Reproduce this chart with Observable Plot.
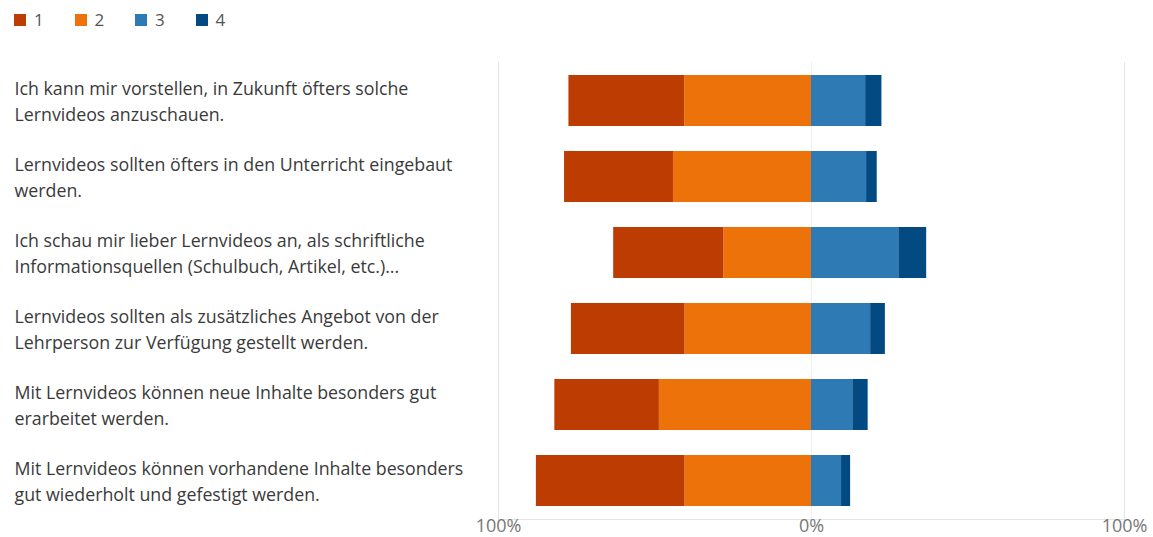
<!DOCTYPE html>
<html>
<head>
<meta charset="utf-8">
<script src="https://cdn.jsdelivr.net/npm/d3@7"></script>
<script src="https://cdn.jsdelivr.net/npm/@observablehq/plot@0.6"></script>
<style>
  html, body { margin: 0; padding: 0; background: #fff; }
  body { width: 1153px; height: 537px; overflow: hidden; font-family: "Open Sans", sans-serif; }
  #legend { height: 34px; display: flex; align-items: center; padding-left: 14px; box-sizing: border-box; padding-top: 5px; }
  .item { display: flex; align-items: center; width: 60.5px; font-size: 17px; color: #555; }
  .sw { width: 12px; height: 12px; margin-right: 8px; }
  #chart svg { display: block; }
</style>
</head>
<body>
<div id="legend"></div>
<div id="chart"></div>
<script>
const questions = [
  "Ich kann mir vorstellen, in Zukunft öfters solche\nLernvideos anzuschauen.",
  "Lernvideos sollten öfters in den Unterricht eingebaut\nwerden.",
  "Ich schau mir lieber Lernvideos an, als schriftliche\nInformationsquellen (Schulbuch, Artikel, etc.)...",
  "Lernvideos sollten als zusätzliches Angebot von der\nLehrperson zur Verfügung gestellt werden.",
  "Mit Lernvideos können neue Inhalte besonders gut\nerarbeitet werden.",
  "Mit Lernvideos können vorhandene Inhalte besonders\ngut wiederholt und gefestigt werden."
];
const categories = ["1", "2", "3", "4"];
const colors = ["#bc3c02", "#ec7209", "#2e7ab4", "#034a83"];
const values1 = [37.0, 34.8, 35.2, 36.3, 33.4, 47.5];
const values2 = [40.5, 44.1, 28.0, 40.4, 48.6, 40.4];
const values3 = [17.3, 17.6, 27.9, 18.9, 13.2, 9.6];
const values4 = [5.2, 3.4, 8.9, 4.7, 4.9, 2.9];
const ticks = [-100, 0, 100];

// legend
const legend = document.getElementById("legend");
categories.forEach((c, i) => {
  const it = document.createElement("div");
  it.className = "item";
  it.innerHTML = `<span class="sw" style="background:${colors[i]}"></span><span>${c}</span>`;
  legend.appendChild(it);
});

// diverging stacked rows
const rows = [];
questions.forEach((q, i) => {
  const v1 = values1[i], v2 = values2[i], v3 = values3[i], v4 = values4[i];
  rows.push({q, cat: "2", x1: -v2, x2: 0});
  rows.push({q, cat: "1", x1: -(v1 + v2), x2: -v2});
  rows.push({q, cat: "3", x1: 0, x2: v3});
  rows.push({q, cat: "4", x1: v3, x2: v3 + v4});
});

const chart = Plot.plot({
  width: 1153,
  height: 503,
  marginLeft: 498,
  marginRight: 29,
  marginTop: 28,
  marginBottom: 18,
  style: {fontFamily: "Open Sans, sans-serif", background: "#fff", overflow: "visible"},
  x: {domain: [-100, 100], ticks: ticks, tickFormat: d => Math.abs(d) + "%"},
  y: {domain: questions, paddingInner: 0.333, paddingOuter: 0.167, axis: null},
  color: {domain: categories, range: colors},
  marks: [
    Plot.ruleX([-100, 100], {stroke: "#e4e4e4", strokeWidth: 1}),
    Plot.ruleX([0], {stroke: "#f0f0f0", strokeWidth: 1}),
    Plot.frame({anchor: "bottom", stroke: "#e4e4e4"}),
    Plot.barX(rows, {y: "q", x1: "x1", x2: "x2", fill: "cat"}),
    Plot.text(questions, {
      y: d => d, text: d => d, frameAnchor: "left", textAnchor: "start",
      dx: -484, dy: -1, fontSize: 17.8, lineHeight: 1.42, fill: "#3a3a3a"
    }),
    Plot.axisX({ticks: ticks, tickFormat: d => Math.abs(d) + "%", tickSize: 0, tickPadding: 0, fontSize: 18, color: "#777", label: null})
  ]
});
document.getElementById("chart").appendChild(chart);
</script>
</body>
</html>
